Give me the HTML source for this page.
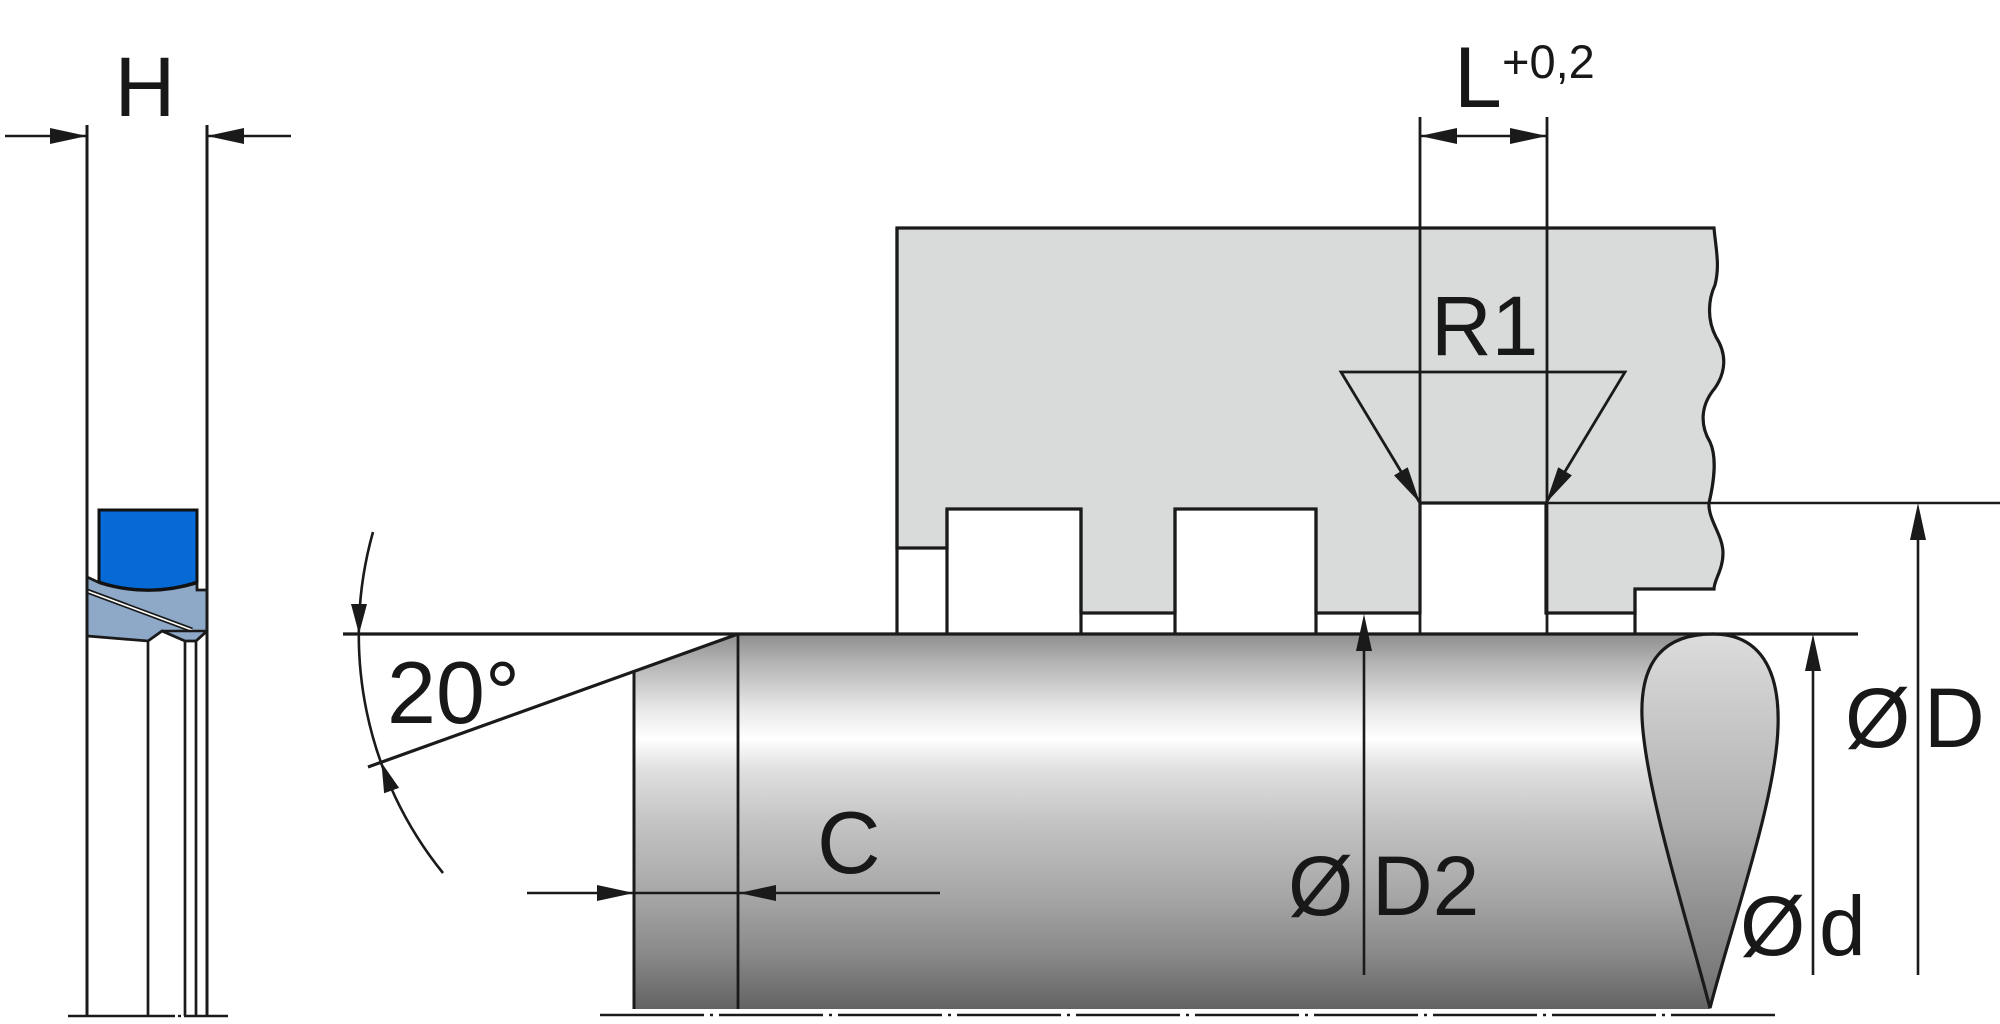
<!DOCTYPE html>
<html>
<head>
<meta charset="utf-8">
<style>
html,body{margin:0;padding:0;background:#ffffff;width:2000px;height:1024px;overflow:hidden;}
svg{display:block;}
text{font-family:"Liberation Sans", Arial, sans-serif;fill:#181818;}
</style>
</head>
<body>
<svg width="2000" height="1024" viewBox="0 0 2000 1024" xmlns="http://www.w3.org/2000/svg">
<defs>
  <linearGradient id="body" gradientUnits="userSpaceOnUse" x1="0" y1="634" x2="0" y2="1009">
    <stop offset="0" stop-color="#8e8e8e"/>
    <stop offset="0.08" stop-color="#b5b5b5"/>
    <stop offset="0.2" stop-color="#e8e8e8"/>
    <stop offset="0.28" stop-color="#ffffff"/>
    <stop offset="0.36" stop-color="#e0e0e0"/>
    <stop offset="0.5" stop-color="#c4c4c4"/>
    <stop offset="0.7" stop-color="#a6a6a6"/>
    <stop offset="0.85" stop-color="#8a8a8a"/>
    <stop offset="1" stop-color="#636363"/>
  </linearGradient>
  <linearGradient id="endg" gradientUnits="userSpaceOnUse" x1="0" y1="634" x2="0" y2="1009">
    <stop offset="0" stop-color="#dcdcdc"/>
    <stop offset="0.5" stop-color="#b0b0b0"/>
    <stop offset="1" stop-color="#6e6e6e"/>
  </linearGradient>
</defs>

<g stroke="#1a1a1a" fill="none" stroke-linejoin="miter">

<!-- ================= LEFT SEAL ================= -->
<line x1="5" y1="136" x2="87" y2="136" stroke-width="2.4"/>
<line x1="207" y1="136" x2="291" y2="136" stroke-width="2.4"/>
<polygon points="87,136 50,128 50,144" fill="#1a1a1a" stroke="none"/>
<polygon points="207,136 244,128 244,144" fill="#1a1a1a" stroke="none"/>

<path d="M87,577 L100,583 Q148,598 197,583 L197,590 L207,590 L207,631 L196,641 L185,641 L162,631 L148,641 L87,636 Z" fill="#8ea8c8" stroke-width="2.8"/>
<line x1="87" y1="591" x2="192" y2="630" stroke-width="5"/>
<line x1="87" y1="591" x2="192" y2="630" stroke="#ffffff" stroke-width="1.6"/>
<line x1="162" y1="631" x2="207" y2="631" stroke-width="2.4"/>

<path d="M99,510 H197 V582 Q148,598 99,582 Z" fill="#0569d6" stroke="#111" stroke-width="3"/>

<line x1="87" y1="125" x2="87" y2="1016" stroke-width="3"/>
<line x1="207" y1="125" x2="207" y2="1016" stroke-width="3"/>
<line x1="148" y1="641" x2="148" y2="1016" stroke-width="2.7"/>
<line x1="185" y1="641" x2="185" y2="1016" stroke-width="2.7"/>
<line x1="196" y1="641" x2="196" y2="1016" stroke-width="2.7"/>

<line x1="68" y1="1016" x2="175" y2="1016" stroke-width="2.4"/>
<line x1="178" y1="1016" x2="181" y2="1016" stroke-width="2.4"/>
<line x1="184" y1="1016" x2="228" y2="1016" stroke-width="2.4"/>

<!-- ================= HOUSING ================= -->
<path d="M897,228 L1714,228
 C1716,250 1720,265 1715,285 C1708,300 1707,320 1716,337 C1727,354 1726,372 1715,388
 C1699,407 1701,427 1710,442 C1717,457 1714,482 1709,503 C1708,520 1723,535 1723,553
 C1723,570 1714,580 1714,589
 L1635,589 L1635,613 L1546,613 L1546,503 L1420,503 L1420,613 L1316,613 L1316,509 L1175,509 L1175,613 L1081,613 L1081,509 L947,509 L947,548 L897,548 Z"
 fill="#d9dbda" stroke-width="3.2"/>

<line x1="897" y1="228" x2="897" y2="634" stroke-width="3.2"/>
<line x1="947" y1="509" x2="947" y2="634" stroke-width="3.2"/>
<line x1="1081" y1="509" x2="1081" y2="634" stroke-width="3.2"/>
<line x1="1175" y1="509" x2="1175" y2="634" stroke-width="3.2"/>
<line x1="1316" y1="509" x2="1316" y2="634" stroke-width="3.2"/>
<line x1="1635" y1="589" x2="1635" y2="634" stroke-width="3.2"/>
<line x1="1420" y1="117" x2="1420" y2="634" stroke-width="2.8"/>
<line x1="1547" y1="117" x2="1547" y2="634" stroke-width="2.8"/>

<line x1="1420" y1="136" x2="1547" y2="136" stroke-width="2.4"/>
<polygon points="1420,136 1457,128 1457,144" fill="#1a1a1a" stroke="none"/>
<polygon points="1547,136 1510,128 1510,144" fill="#1a1a1a" stroke="none"/>

<polyline points="1420,503 1341,372 1625,372 1546,503" stroke-width="2.8"/>
<polygon points="1420,503 1407.7,467.2 1394,475.4" fill="#1a1a1a" stroke="none"/>
<polygon points="1546,503 1571.9,475.4 1558.2,467.2" fill="#1a1a1a" stroke="none"/>

<line x1="1546" y1="503" x2="2000" y2="503" stroke-width="2.6"/>

<!-- ================= SHAFT ================= -->
<path d="M634,673 L738,634 L1713,634 C1665,634 1640,660 1642,717 C1645,790 1690,930 1710,1009 L634,1009 Z" fill="url(#body)" stroke="none"/>
<path d="M1710,1008 C1690,930 1645,790 1642,717 C1640,660 1665,634 1713,634 C1760,634 1780,670 1778,727 C1776,800 1730,930 1710,1008 Z" fill="url(#endg)" stroke-width="3.2"/>

<line x1="634" y1="672" x2="634" y2="1009" stroke-width="3"/>
<line x1="738" y1="634" x2="738" y2="1009" stroke-width="2.8"/>
<line x1="738" y1="634" x2="368" y2="767" stroke-width="3.2"/>
<line x1="343" y1="634" x2="1858" y2="634" stroke-width="3.2"/>

<line x1="600" y1="1015" x2="1775" y2="1015" stroke-width="2.4" stroke-dasharray="104 6 3 6"/>

<path d="M373,532 A379,379 0 0,0 443,873" stroke-width="2.6"/>
<polygon points="359,634 351,604 367,604" fill="#1a1a1a" stroke="none"/>
<polygon points="381.4,762.4 399.1,787.9 384.1,793.3" fill="#1a1a1a" stroke="none"/>

<line x1="527" y1="893" x2="940" y2="893" stroke-width="2.4"/>
<polygon points="634,893 597,885 597,901" fill="#1a1a1a" stroke="none"/>
<polygon points="739,893 776,885 776,901" fill="#1a1a1a" stroke="none"/>

<line x1="1364" y1="645" x2="1364" y2="975" stroke-width="2.6"/>
<polygon points="1364,614 1356,651 1372,651" fill="#1a1a1a" stroke="none"/>

<line x1="1813" y1="665" x2="1813" y2="975" stroke-width="2.6"/>
<polygon points="1813,634 1805,671 1821,671" fill="#1a1a1a" stroke="none"/>

<line x1="1918" y1="535" x2="1918" y2="975" stroke-width="2.6"/>
<polygon points="1918,503 1910,540 1926,540" fill="#1a1a1a" stroke="none"/>
</g>

<!-- ================= TEXT ================= -->
<text x="145" y="116" font-size="84" text-anchor="middle">H</text>
<text x="1454" y="107" font-size="86">L</text>
<text x="1502" y="78" font-size="47">+0,2</text>
<text x="1431" y="355" font-size="84">R1</text>
<text x="387" y="723" font-size="88">20°</text>
<text x="817" y="873" font-size="88">C</text>
<text x="1288" y="915" font-size="84">Ø</text>
<text x="1372" y="915" font-size="84">D2</text>
<text x="1845" y="747" font-size="84">Ø</text>
<text x="1924" y="747" font-size="84">D</text>
<text x="1740" y="955" font-size="84">Ø</text>
<text x="1819" y="955" font-size="84">d</text>
</svg>
</body>
</html>
